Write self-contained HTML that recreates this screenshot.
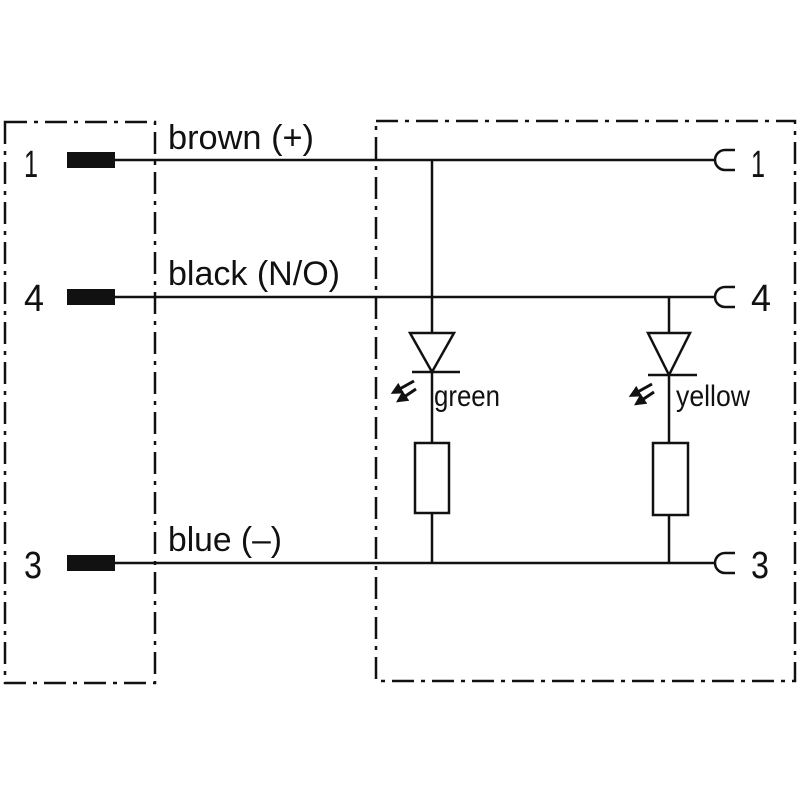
<!DOCTYPE html>
<html><head><style>body{margin:0;background:#fff}svg{display:block}</style></head><body>
<svg width="800" height="800" viewBox="0 0 800 800" xmlns="http://www.w3.org/2000/svg" font-family="Liberation Sans Narrow, Liberation Sans, sans-serif">
<defs><marker id="ah" markerWidth="4" markerHeight="4" refX="2" refY="2" orient="auto" markerUnits="strokeWidth"><path d="M0,0 L4,2 L0,4 z" fill="#111"/></marker></defs>
<g fill="none" stroke="#111" stroke-width="2.5" stroke-dasharray="22,7,4,7">
<rect x="5" y="122" width="150" height="561"/>
<rect x="376" y="121" width="419" height="560"/>
</g>
<g stroke="#111" stroke-width="2.5" fill="none">
<line x1="115" y1="160" x2="714" y2="160"/>
<line x1="115" y1="297" x2="714" y2="297"/>
<line x1="115" y1="563" x2="714" y2="563"/>
<path d="M735 150 H725 A10 10 0 0 0 725 170 H735"/>
<path d="M735 287 H725 A10 10 0 0 0 725 307 H735"/>
<path d="M735 553 H725 A10 10 0 0 0 725 573 H735"/>
<line x1="432" y1="160" x2="432" y2="563"/>
<line x1="669" y1="297" x2="669" y2="563"/>
<polygon points="410,333 454,333 432,372" fill="#fff"/>
<line x1="412" y1="372" x2="460" y2="372"/>
<polygon points="648,333 690,333 669,375" fill="#fff"/>
<line x1="648" y1="375" x2="697" y2="375"/>
<rect x="415" y="443" width="34" height="70" fill="#fff"/>
<rect x="653" y="443" width="35" height="72" fill="#fff"/>
<g stroke-width="3" marker-end="url(#ah)">
<line x1="414" y1="381" x2="396" y2="391"/><line x1="416" y1="389" x2="401" y2="399"/>
<line x1="652" y1="384" x2="634" y2="394"/><line x1="654" y1="392" x2="639" y2="402"/>
</g>
</g>
<rect x="67" y="152" width="48" height="16" fill="#111"/>
<rect x="67" y="289" width="48" height="16" fill="#111"/>
<rect x="67" y="555" width="48" height="16" fill="#111"/>
<g fill="#111" font-size="38">
<text x="24" y="177" textLength="14" lengthAdjust="spacingAndGlyphs">1</text>
<text x="24" y="311" textLength="20" lengthAdjust="spacingAndGlyphs">4</text>
<text x="24" y="578" textLength="18" lengthAdjust="spacingAndGlyphs">3</text>
<text x="751" y="177" textLength="14" lengthAdjust="spacingAndGlyphs">1</text>
<text x="751" y="311" textLength="20" lengthAdjust="spacingAndGlyphs">4</text>
<text x="751" y="578" textLength="18" lengthAdjust="spacingAndGlyphs">3</text>
<text x="168" y="149" font-size="34" textLength="146" lengthAdjust="spacingAndGlyphs">brown (+)</text>
<text x="168" y="285" font-size="34" textLength="172" lengthAdjust="spacingAndGlyphs">black (N/O)</text>
<text x="168" y="551" font-size="34" textLength="114" lengthAdjust="spacingAndGlyphs">blue (–)</text>
<text x="434" y="406" font-size="30" textLength="66" lengthAdjust="spacingAndGlyphs">green</text>
<text x="676" y="406" font-size="30" textLength="74" lengthAdjust="spacingAndGlyphs">yellow</text>
</g>
</svg>
</body></html>
